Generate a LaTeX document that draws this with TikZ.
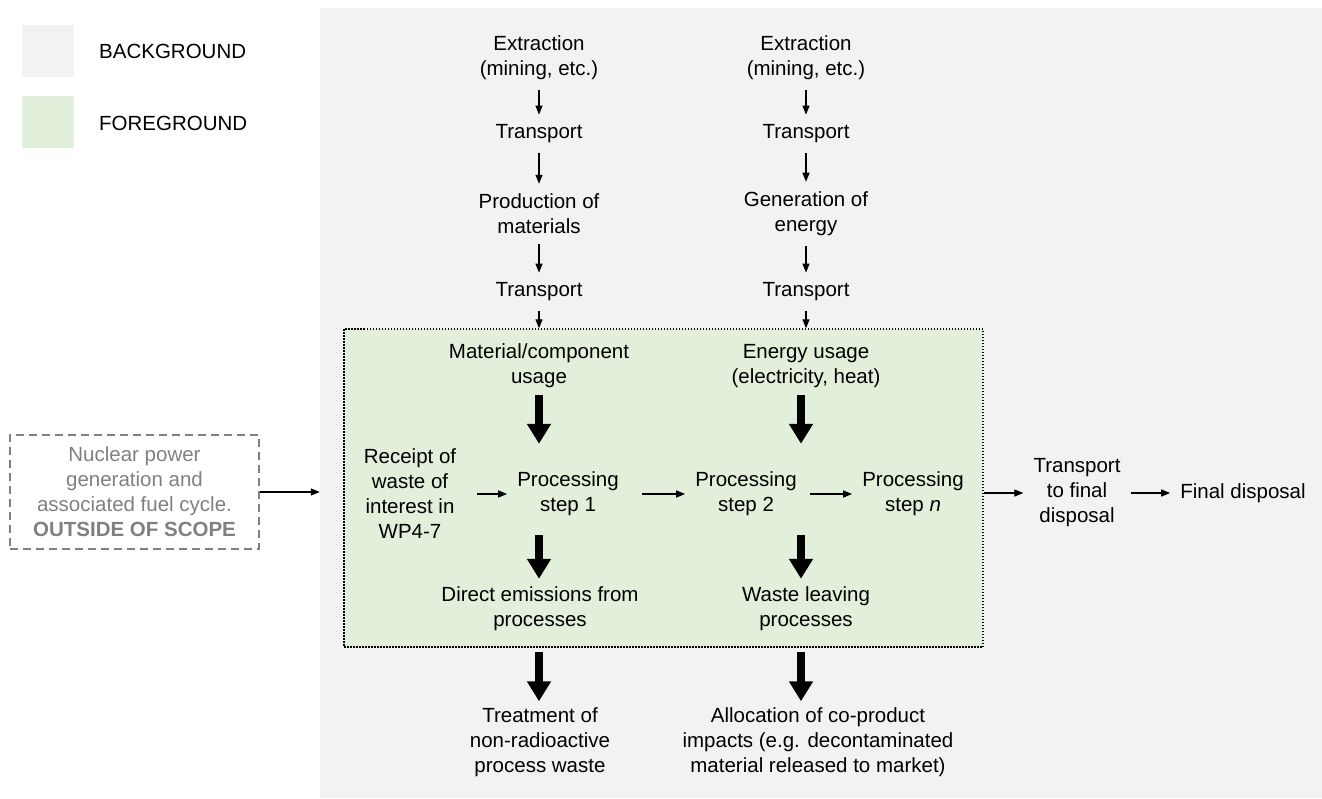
\documentclass[tikz,border=0pt]{standalone}
\usepackage{fontspec}
\setmainfont{Liberation Sans}
\usetikzlibrary{arrows.meta,positioning}
\definecolor{bggrey}{HTML}{F2F2F2}
\definecolor{fggreen}{HTML}{E2EFDA}
\definecolor{scopegrey}{HTML}{808080}

\begin{document}
\begin{tikzpicture}[x=1pt,y=-1pt,
	txt/.style={align=center,font=\fontsize{20.5}{25}\selectfont,inner sep=3pt},
	keybox/.style={minimum size=52pt,inner sep=0pt},
	thinarrow/.style={-{Triangle[length=9pt,width=7pt]},line width=1.2pt,shorten <=7pt,shorten >=7pt},
	thickarrow/.style={-{Triangle[length=20pt,width=23pt]},line width=8pt}]
	\useasboundingbox (0,0) rectangle (1322,798);
	% background and foreground areas
	\node[fill=bggrey,minimum width=1002pt,minimum height=790pt,inner sep=0pt] (bg) at (821,403) {};
	\node[draw,fill=fggreen,line width=1.5pt,dash pattern=on 1.5pt off 1.5pt,
		minimum width=639pt,minimum height=318pt,inner sep=0pt] (fg) at (663.5,488) {};
	% legend
	\node[keybox,fill=bggrey] (bgkey) at (48,51) {};
	\node[keybox,fill=fggreen] (fgkey) at (48,122) {};
	\node[txt,anchor=west] (bglabel) at (96,51) {BACKGROUND};
	\node[txt,anchor=west] (fglabel) at (96,123) {FOREGROUND};
	% out of scope
	\node[txt,draw=scopegrey,text=scopegrey,line width=1.5pt,dash pattern=on 8pt off 5pt,
		minimum width=249pt,minimum height=114pt] (nuclear) at (134.5,492)
		{Nuclear power\\generation and\\associated fuel cycle.\\\textbf{OUTSIDE OF SCOPE}};
	% material chain
	\node[txt] (ext1) at (539,58) {Extraction\\(mining, etc.)};
	\node[txt] (tr1a) at (539,134) {Transport};
	\node[txt] (prod) at (539,214) {Production of\\materials};
	\node[txt] (tr1b) at (539,292) {Transport};
	% energy chain
	\node[txt] (ext2) at (806,58) {Extraction\\(mining, etc.)};
	\node[txt] (tr2a) at (806,134) {Transport};
	\node[txt] (gen) at (806,214) {Generation of\\energy};
	\node[txt] (tr2b) at (806,292) {Transport};
	% foreground processes
	\node[txt] (matuse) at (539,366) {Material/component\\usage};
	\node[txt] (enuse) at (806,366) {Energy usage\\(electricity, heat)};
	\node[txt] (receipt) at (410,494) {Receipt of\\waste of\\interest in\\WP4-7};
	\node[txt] (step1) at (568,494) {Processing\\step 1};
	\node[txt] (step2) at (746,494) {Processing\\step 2};
	\node[txt] (stepn) at (913,494) {Processing\\step \textit{n}};
	\node[txt] (emis) at (540,609) {Direct emissions from\\processes};
	\node[txt] (leave) at (806,609) {Waste leaving\\processes};
	% downstream
	\node[txt] (trfinal) at (1077,493) {Transport\\to final\\disposal};
	\node[txt] (final) at (1243,493) {Final disposal};
	\node[txt] (treat) at (540,742) {Treatment of\\non-radioactive\\process waste};
	\node[txt] (alloc) at (818,742) {Allocation of co-product\\impacts (e.g. decontaminated\\material released to market)};

	\path[thinarrow]
		(ext1) edge (tr1a)
		(tr1a) edge (prod)
		(prod) edge (tr1b)
		(ext2) edge (tr2a)
		(tr2a) edge (gen)
		(gen) edge (tr2b);
	\draw[thinarrow,shorten >=0pt] (tr1b) -- (tr1b |- fg.north);
	\draw[thinarrow,shorten >=0pt] (tr2b) -- (tr2b |- fg.north);
	\draw[thinarrow,shorten <=0pt,shorten >=0pt] (nuclear) -- (nuclear -| bg.west);
	\draw[thinarrow,shorten <=18pt] (receipt) -- (step1);
	\draw[thinarrow,shorten <=20pt] (step1) -- (step2);
	\draw[thinarrow,shorten <=10pt] (step2) -- (stepn);
	\draw[thinarrow,shorten <=0pt] (fg.east |- trfinal) -- (trfinal);
	\draw[thinarrow] (trfinal) -- (final);

	\draw[thickarrow,shorten <=4pt,shorten >=25pt] (matuse) -- (matuse |- step1.north);
	\draw[thickarrow,shorten <=4pt,shorten >=25pt] ([xshift=-5pt]enuse.south) -- ([xshift=-5pt]enuse.south |- step2.north);
	\draw[thickarrow,shorten <=16pt,shorten >=5pt] (matuse |- step1.south) -- (matuse |- emis.north);
	\draw[thickarrow,shorten <=16pt,shorten >=5pt] ([xshift=-5pt]enuse.south |- step2.south) -- ([xshift=-5pt]enuse.south |- leave.north);
	\draw[thickarrow,shorten <=4pt,shorten >=3pt] (matuse |- fg.south) -- (matuse |- treat.north);
	\draw[thickarrow,shorten <=4pt,shorten >=3pt] ([xshift=-5pt]enuse.south |- fg.south) -- ([xshift=-5pt]enuse.south |- alloc.north);
\end{tikzpicture}
\end{document}
